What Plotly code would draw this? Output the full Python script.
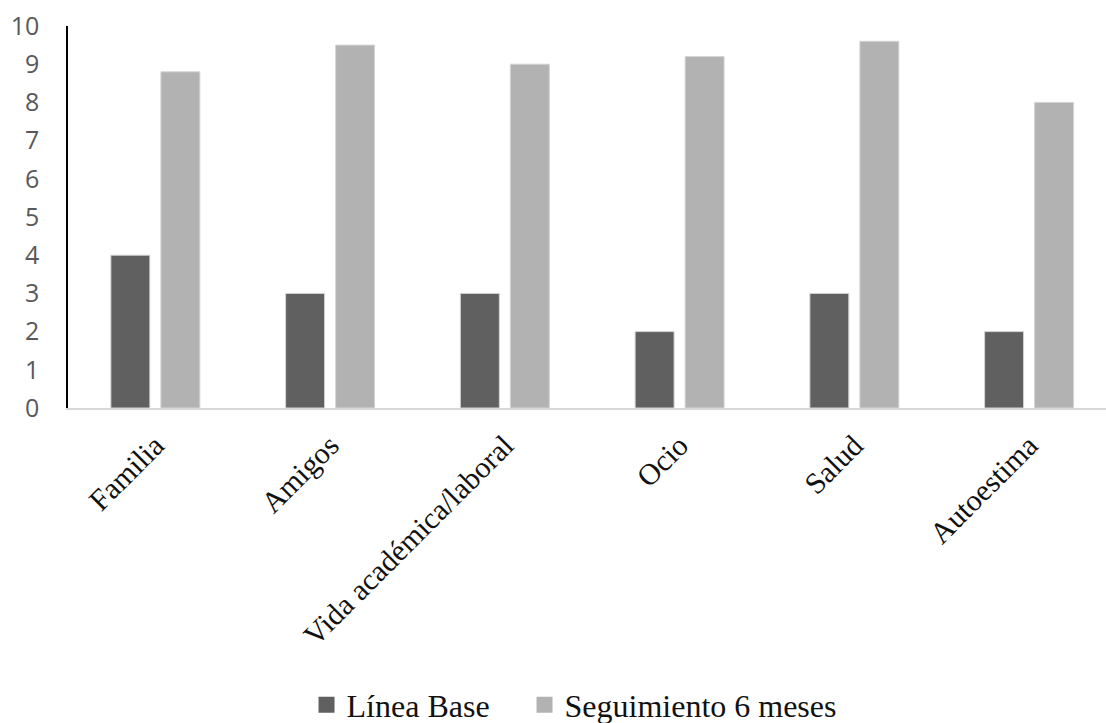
import plotly.graph_objects as go

# Life-domain scores at baseline and at the 6-month follow-up
categorias = ["Familia", "Amigos", "Vida académica/laboral", "Ocio", "Salud", "Autoestima"]
linea_base = [4, 3, 3, 2, 3, 2]
seguimiento_6m = [8.8, 9.5, 9.0, 9.2, 9.6, 8.0]
nombres_series = ["Línea Base", "Seguimiento 6 meses"]
colores = ["#606060", "#b2b2b2"]
y_ticks = list(range(0, 11))

BAR_W = 0.223
fig = go.Figure()
fig.add_trace(go.Bar(
    x=categorias, y=linea_base, name=nombres_series[0],
    width=BAR_W, offset=-0.2547, showlegend=False,
    marker=dict(color=colores[0], line=dict(color="#d4d4d4", width=1)),
))
fig.add_trace(go.Bar(
    x=categorias, y=seguimiento_6m, name=nombres_series[1],
    width=BAR_W, offset=0.0315, showlegend=False,
    marker=dict(color=colores[1], line=dict(color="#d4d4d4", width=1)),
))

# Legend entries with larger square swatches, one legend box per series
for nombre, color, leg in zip(nombres_series, colores, ["legend", "legend2"]):
    fig.add_trace(go.Scatter(
        x=[None], y=[None], mode="markers", name=nombre,
        marker=dict(symbol="square", size=16, color=color),
        showlegend=True, legend=leg,
    ))

leg_font = dict(family="Liberation Serif", size=32, color="#111111")
fig.update_layout(
    width=1106, height=723,
    margin=dict(l=68, r=0, t=26, b=315, autoexpand=False),
    paper_bgcolor="white", plot_bgcolor="white",
    barmode="group",
    legend=dict(
        orientation="h", xref="paper", yref="paper",
        x=0.2298, xanchor="left", y=-0.7775, yanchor="middle",
        font=leg_font, itemwidth=30,
    ),
    legend2=dict(
        orientation="h", xref="paper", yref="paper",
        x=0.4398, xanchor="left", y=-0.7775, yanchor="middle",
        font=leg_font, itemwidth=30,
    ),
)
fig.update_xaxes(
    type="category", range=[-0.5, 5.44],
    showline=True, linecolor="#d9d9d9", linewidth=2,
    showgrid=False, ticks="", tickangle=-45,
    tickfont=dict(family="Liberation Serif", size=30, color="#111111"),
    ticklabelstandoff=6,
)
fig.update_yaxes(
    range=[0, 10], tickvals=y_ticks,
    showline=True, linecolor="#000000", linewidth=1.5,
    showgrid=False, zeroline=False, ticks="",
    tickfont=dict(family="Open Sans", size=25, color="#595959"),
    ticklabelstandoff=22,
)

fig.write_html("out.html")
